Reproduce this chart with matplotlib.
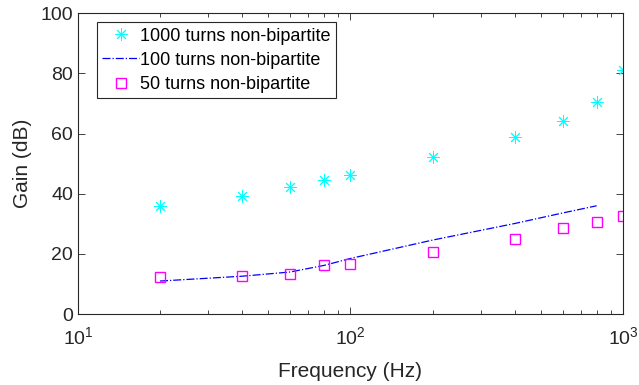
import numpy as np
import matplotlib
matplotlib.use('Agg')
import matplotlib.pyplot as plt
from matplotlib.ticker import LogLocator, NullFormatter

plt.rcParams['font.family'] = ['Liberation Sans', 'DejaVu Sans']
plt.rcParams['mathtext.fontset'] = 'custom'
plt.rcParams['mathtext.rm'] = 'Liberation Sans'

# measured gains (dB)
freq = [20, 40, 60, 80, 100, 200, 400, 600, 800, 1000]
gain_1000 = [35.9, 39.2, 42.3, 44.6, 46.3, 52.2, 58.9, 64.3, 70.5, 81.0]
gain_50 = [12.4, 12.8, 13.2, 16.2, 16.5, 20.5, 24.9, 28.7, 30.5, 32.6]
freq_100 = [20, 40, 60, 80, 100, 200, 400, 600, 800]
gain_100 = [11.0, 12.6, 14.0, 16.2, 18.5, 24.6, 30.1, 33.6, 36.0]

txt = '#262626'

fig = plt.figure(figsize=(6.39, 3.85), dpi=100)
ax = fig.add_axes([0.122, 0.184, 0.853, 0.782])

ax.plot(freq, gain_1000, ls='none', marker=(8, 2, 0), ms=9, mew=0.7,
        color='#00FFFF', label='1000 turns non-bipartite')
ax.plot(freq_100, gain_100, ls='-.', lw=0.9, color='#0000FF',
        label='100 turns non-bipartite')
ax.plot(freq, gain_50, ls='none', marker='s', ms=6.5, mew=1.0, mfc='none',
        color='#FF00FF', label='50 turns non-bipartite')

ax.set_xscale('log')
ax.set_xlim(10, 1000)
ax.set_ylim(0, 100)
ax.set_yticks([0, 20, 40, 60, 80, 100])
ax.xaxis.set_minor_locator(LogLocator(base=10, subs=np.arange(2, 10)))
ax.xaxis.set_minor_formatter(NullFormatter())

ax.set_xlabel('Frequency (Hz)', fontsize=15, color=txt, labelpad=10)
ax.set_ylabel('Gain (dB)', fontsize=15, color=txt, labelpad=6)

ax.tick_params(which='both', direction='in', top=True, right=True,
               colors=txt, labelsize=14)
ax.tick_params(which='major', length=5, width=0.6)
ax.tick_params(which='minor', length=3, width=0.6)
ax.tick_params(axis='x', pad=9)
for s in ax.spines.values():
    s.set_color(txt)
    s.set_linewidth(0.8)

leg = ax.legend(loc='upper left', bbox_to_anchor=(0.035, 0.97), fontsize=13,
                frameon=True, fancybox=False, edgecolor=txt, framealpha=1,
                borderpad=0.3, labelspacing=0.4, handlelength=2.0,
                handletextpad=0.1, borderaxespad=0)
leg.get_frame().set_linewidth(0.8)
for t in leg.get_texts():
    t.set_color('black')

fig.savefig('out.png', dpi=100)
